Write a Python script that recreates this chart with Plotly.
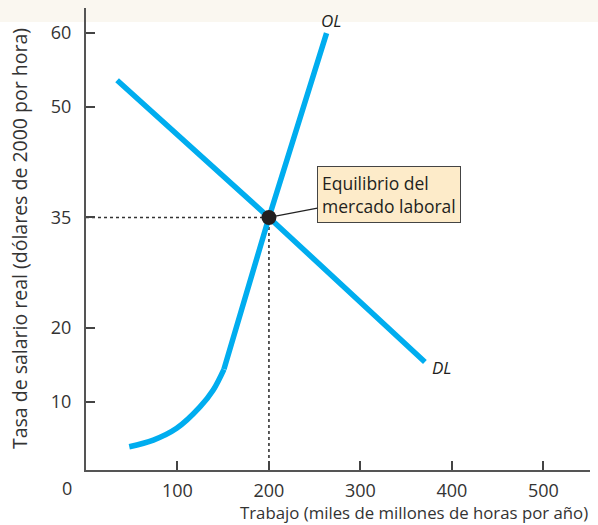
import plotly.graph_objects as go

# ---- data ----
ol_curve_x = [47.3, 73.6, 99.1, 124.6, 139.1, 150.8]
ol_curve_y = [3.9, 4.8, 6.4, 9.3, 11.6, 14.4]
ol_line_x = [150.8, 200, 263]
ol_line_y = [14.4, 35, 60]
dl_x = [34, 200, 370.5]
dl_y = [53.6, 35, 15.4]
eq_x = 200
eq_y = 35
x_ticks = [100, 200, 300, 400, 500]
y_ticks = [10, 20, 35, 50, 60]
x_range = [0, 551]
y_range = [0.75, 63.4]

BLUE = "#00ADEF"
FONT = "Open Sans"
TXT = "#231f20"

fig = go.Figure()

# dotted guide lines
fig.add_trace(go.Scatter(x=[x_range[0], eq_x], y=[eq_y, eq_y], mode="lines",
                         line=dict(color="#333", width=1.6, dash="dot"), hoverinfo="skip"))
fig.add_trace(go.Scatter(x=[eq_x, eq_x], y=[y_range[0], eq_y], mode="lines",
                         line=dict(color="#333", width=1.6, dash="dot"), hoverinfo="skip"))

# OL curve
fig.add_trace(go.Scatter(x=ol_curve_x, y=ol_curve_y, mode="lines",
                         line=dict(color=BLUE, width=5.5, shape="spline")))
fig.add_trace(go.Scatter(x=ol_line_x, y=ol_line_y, mode="lines",
                         line=dict(color=BLUE, width=5.5)))
# DL
fig.add_trace(go.Scatter(x=dl_x, y=dl_y, mode="lines",
                         line=dict(color=BLUE, width=5.5)))
# equilibrium
fig.add_trace(go.Scatter(x=[eq_x], y=[eq_y], mode="markers",
                         marker=dict(color=TXT, size=15)))

fig.update_layout(
    width=598, height=525,
    margin=dict(l=86, r=8, t=8, b=55),
    paper_bgcolor="white", plot_bgcolor="white",
    showlegend=False,
    font=dict(family=FONT, color=TXT),
    xaxis=dict(range=x_range, tickvals=x_ticks, ticktext=[str(v) for v in x_ticks],
               showgrid=False, zeroline=False, showline=True, linecolor="#555", linewidth=2,
               ticks="inside", ticklen=9, tickwidth=1.5, tickcolor="#444",
               tickfont=dict(size=18, color="#333"), ticklabelstandoff=3),
    yaxis=dict(range=y_range, tickvals=y_ticks, ticktext=[str(v) for v in y_ticks],
               showgrid=False, zeroline=False, showline=True, linecolor="#555", linewidth=2,
               ticks="inside", ticklen=9, tickwidth=1.5, tickcolor="#444",
               tickfont=dict(size=18, color="#333"), ticklabelstandoff=9),
    shapes=[dict(type="rect", xref="paper", yref="paper", x0=-0.2, x1=1.1,
                 y0=1 - 14 / 462, y1=1.05, fillcolor="#FAF7F0", line=dict(width=0),
                 layer="below")],
)

fig.add_annotation(x=0, y=0, xref="paper", yref="paper", text="0", showarrow=False,
                   xanchor="center", yanchor="middle",
                   xshift=-19, yshift=-18, font=dict(size=18, color="#333"))
fig.add_annotation(x=1, y=0, xref="paper", yref="paper",
                   text="Trabajo (miles de millones de horas por año)", showarrow=False,
                   xanchor="right", yanchor="middle", yshift=-42,
                   font=dict(size=16.8, color="#333"))
fig.add_annotation(x=-67 / 504, y=0.5, xref="paper", yref="paper",
                   text="Tasa de salario real (dólares de 2000 por hora)", showarrow=False,
                   textangle=-90, xanchor="center", yanchor="middle",
                   font=dict(size=19.5, color="#333"))
fig.add_annotation(x=ol_line_x[-1], y=ol_line_y[-1], text="<i>OL</i>", showarrow=False,
                   xshift=4, yshift=13, font=dict(size=17, color=TXT))
fig.add_annotation(x=dl_x[-1], y=dl_y[-1], text="<i>DL</i>", showarrow=False,
                   xshift=17, yshift=-6, font=dict(size=17, color=TXT))
fig.add_annotation(x=eq_x, y=eq_y, text="Equilibrio del<br>mercado laboral",
                   showarrow=True, arrowhead=0, arrowwidth=1.2, arrowcolor="#222",
                   ax=120, ay=-23, align="left", bgcolor="#FDEBC9", bordercolor="#444",
                   borderwidth=1, borderpad=4, font=dict(size=17.5, color=TXT))

fig.write_html("out.html", config={"displayModeBar": False},
               post_script="document.body.style.margin='0px';document.body.style.overflow='hidden';")
